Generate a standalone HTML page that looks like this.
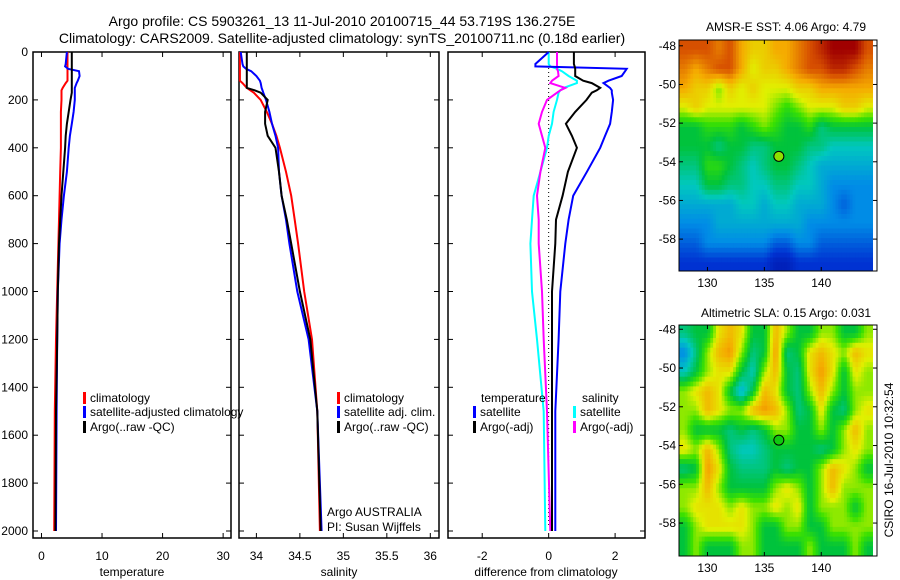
<!DOCTYPE html>
<html><head><meta charset="utf-8"><style>
body{margin:0;background:#fff;}
svg{display:block;font-family:"Liberation Sans",Arial,sans-serif;}
text{fill:#000;}
</style></head><body>
<svg id="s" width="900" height="580" viewBox="0 0 900 580">
<text x="342" y="26" font-size="14" text-anchor="middle">Argo profile: CS 5903261_13 11-Jul-2010 20100715_44 53.719S 136.275E</text>
<text x="342" y="43" font-size="14" text-anchor="middle">Climatology: CARS2009. Satellite-adjusted climatology: synTS_20100711.nc (0.18d earlier)</text>
<text x="786" y="31" font-size="12" text-anchor="middle">AMSR-E SST: 4.06 Argo: 4.79</text>
<text x="786" y="317" font-size="12" text-anchor="middle">Altimetric SLA: 0.15 Argo: 0.031</text>
<text transform="translate(893,460) rotate(-90)" font-size="12" text-anchor="middle">CSIRO 16-Jul-2010 10:32:54</text>
</svg>
<script>
// ---- data ----
const depths = [0,50,60,70,80,100,120,130,150,160,170,200,250,300,350,400,500,600,700,800,1000,1200,1500,2000];
const tClim = [4.3,4.3,4.3,4.3,4.3,4.3,4.3,4.0,3.5,3.3,3.3,3.3,3.2,3.2,3.2,3.2,3.1,3.0,2.9,2.8,2.6,2.4,2.2,2.1];
const tArgo = [5.0,5.0,5.0,5.0,5.0,5.0,5.0,5.0,5.0,5.0,5.0,4.8,4.5,4.2,4.0,3.9,3.6,3.3,3.1,2.9,2.7,2.6,2.4,2.3];
const tSat  = [4.2,4.0,3.9,4.4,6.2,6.3,6.0,5.8,5.5,5.5,5.5,5.5,5.3,5.0,4.7,4.5,4.2,3.7,3.3,3.0,2.7,2.6,2.5,2.4];
const sClim = [33.81,33.81,33.81,33.81,33.81,33.81,33.81,33.84,33.89,33.93,33.97,34.05,34.12,34.18,34.23,34.27,34.34,34.40,34.44,34.48,34.55,34.64,34.70,34.73];
const sArgo = [33.89,33.89,33.89,33.89,33.89,33.89,33.89,33.89,33.89,33.98,34.05,34.13,34.10,34.10,34.13,34.22,34.26,34.29,34.35,34.40,34.50,34.62,34.70,34.74];
const sSat  = [33.82,33.84,33.85,33.88,33.94,34.00,34.04,34.05,34.06,34.07,34.08,34.11,34.15,34.18,34.22,34.25,34.26,34.29,34.34,34.38,34.47,34.60,34.70,34.75];
const dTsat = [0,-0.4,-0.4,2.35,2.3,2.2,1.8,1.65,1.85,1.9,1.9,1.94,1.9,1.85,1.7,1.55,1.15,0.74,0.6,0.5,0.35,0.3,0.2,0.2];
const dTargo= [0.76,0.76,0.78,0.8,0.8,0.8,1.04,1.3,1.55,1.45,1.3,1.14,0.8,0.52,0.7,0.85,0.58,0.42,0.22,0.2,0.1,0.1,0.1,0.1];
const dSsat = [0,0,0.05,0.25,0.4,0.6,0.85,0.85,0.45,0.35,0.3,0.25,0.15,0.1,0.0,-0.05,-0.25,-0.45,-0.5,-0.55,-0.5,-0.35,-0.15,-0.1];
const dSargo= [0.25,0.25,0.25,0.25,0.28,0.3,0.1,0.05,0.5,0.35,0.25,-0.05,-0.2,-0.3,-0.2,-0.1,-0.25,-0.35,-0.3,-0.3,-0.2,-0.15,-0.05,0.05];
const depthTicks = [0,200,400,600,800,1000,1200,1400,1600,1800,2000];
const tTicks = [0,10,20,30];
const sTicks = ["34","34.5","35","35.5","36"];
const dTicks = [-2,0,2];
const lonTicks = [130,135,140];
const latTicks = [-48,-50,-52,-54,-56,-58];
const argoLon = 136.275, argoLat = -53.719;
const sstGrid = [
[8,8,8,7.5,8,7,6.5,6.5,7,7,7.5,8,8.5,9,9,9,8],
[7.5,7,7.5,8,8,7,6,6.5,6.5,7,7.5,8,8,8.5,8.5,8,7.5],
[7,6.5,6.5,5.5,6.5,6,6.5,6,6,6,6.5,6.5,7,7,7,7,7],
[6,6.5,6,6,6,6,6,6,5.5,5,5.5,6,6,6,6.5,6.5,6],
[4.5,4.5,5,5,5,4.5,5,5.5,5,4.5,4.5,5,4,4.5,4.5,4.5,4.5],
[4.5,4.5,4.5,4,4.5,4.5,4,4,4.5,4.5,4.5,4,4,3.5,3.5,3.5,3.5],
[4,4,5,5,4.5,4,3.5,4,4.5,4.5,4,3.5,3,3,3,3,3],
[3.5,3.5,4.5,4.5,4,4,3.5,3.5,4,4,3.5,3.5,3,2.5,2.5,2.5,2.5],
[3,3,3,3,3,3.5,3.5,3,3.5,3.5,3,3,3,2.5,2,2.5,2.5],
[2.5,2.5,2.5,3,3,3,3,3,3,3,3,2.5,2.5,2.5,2.5,2.5,2.5],
[2,2,2.5,2.5,2.5,2.5,2.5,2.5,2,2,2.5,2.5,2,2,2,2,2],
[1.5,1.5,1.5,1.5,1.5,1.5,1.5,1.5,1,1,1.5,1.5,1.5,1.5,1.5,1.5,1.5]];
const slaGrid = [
[4,4.5,4.5,6.2,6.8,6.2,4.5,4.5,6.8,5.6,4.5,4.5,5.6,5.6,4.5,4.5,5.6],
[2.5,4,5.6,6.8,7.2,5.6,4,4.5,7.2,4,4.5,6.2,6.8,6.2,5.6,6.8,6.2],
[3.5,4.5,5.6,6.2,6.2,4.5,3.5,5.6,6.8,4.5,4,6.2,7.2,6.2,4.5,6.2,5.6],
[5.6,6.2,6.8,6.2,4.5,3,4.5,6.8,6.2,4.5,4,5.6,6.8,5.6,4.5,5.6,5.6],
[5.6,5.6,6.8,6.2,5.6,5.6,6.8,7.2,6.8,5.6,4,4.5,6.2,4.5,4,5.6,6.2],
[5.6,4.5,4.5,4.5,4,4.5,4,4.5,5.6,5.6,4.5,4.5,5.6,4.5,5.6,6.8,5.6],
[6.2,5.6,6.8,5.6,4,3.5,3.5,4,4.5,4.5,4.5,4.5,4,4.5,5.6,6.2,5.6],
[4,4.5,7.2,6.2,4.5,4,4,4,4.5,4,4.5,4.5,5.6,6.8,6.2,5.6,4.5],
[5.6,5.6,6.8,5.6,4.5,4.5,4.5,4.5,5.6,6.2,5.6,4.5,5.6,6.8,5.6,5.6,5.6],
[5.6,6.2,6.2,6.2,5.6,6.2,5.6,5.6,6.2,5.6,6.2,4.5,5.6,5.6,5.6,4.5,5.6],
[4.5,5.6,6.2,6.2,6.2,6.2,5.6,4.5,4.5,5.6,5.6,4.5,4.5,5.6,5.6,5.6,5.6],
[4.5,5.6,4.5,4.5,4.5,5.6,5.6,4.5,4.5,4.5,4.5,5.6,4.5,4.5,4.5,5.6,4.5]];

// ---- helpers ----
const NS="http://www.w3.org/2000/svg";
const svg=document.getElementById('s');
function mk(tag,attrs,parent){const e=document.createElementNS(NS,tag);for(const k in attrs)e.setAttribute(k,attrs[k]);(parent||svg).appendChild(e);return e;}
const top0=52, bot0=538, yPerM=0.2395;
const yD = d => top0 + d*yPerM;
function panel(name,x0,x1,vmin,vmax){
  const sx=v=>x0+(v-vmin)/(vmax-vmin)*(x1-x0);
  const g=mk('g',{});
  
  
  const r=mk('rect',{x:x0,y:top0,width:x1-x0,height:bot0-top0,fill:'none',stroke:'#000','stroke-width':1.5},g);
  
  
  depthTicks.forEach(d=>{const y=yD(d);
    mk('line',{x1:x0,x2:x0+5,y1:y,y2:y,stroke:'#000'},g);
    mk('line',{x1:x1,x2:x1-5,y1:y,y2:y,stroke:'#000'},g);});
  return {sx,g};
}
function ticksX(p,vals){vals.forEach(v=>{const x=p.sx(+v);
  mk('line',{x1:x,x2:x,y1:bot0,y2:bot0-5,stroke:'#000'},p.g);
  mk('line',{x1:x,x2:x,y1:top0,y2:top0+5,stroke:'#000'},p.g);
  const t=mk('text',{x:x,y:560,'font-size':12,'text-anchor':'middle'},p.g);t.textContent=v;
  
  });}
function line(p,xs,col,name,w){
  const pts=xs.map((v,i)=>p.sx(v).toFixed(1)+','+yD(depths[i]).toFixed(1)).join(' ');
  const l=mk('polyline',{points:pts,fill:'none',stroke:col,'stroke-width':w||2},p.g);
  
  
}
function label(x,y,s,name,anchor,size){const t=mk('text',{x:x,y:y,'font-size':size||12,'text-anchor':anchor||'start'});t.textContent=s;
  
  return t;}
function legend(x,y,col,s,name){
  const b=mk('rect',{x:x,y:y-10,width:3,height:12,fill:col});
  
  
  label(x+7,y,s,name);
}

// panel 1 temperature
const p1=panel('temperature-panel',33,231,-1.4,31.3);
depthTicks.forEach(d=>{label(28,yD(d)+4,String(d),'depth-tick-label','end');});
ticksX(p1,tTicks);
line(p1,tClim,'#f00','temp-climatology-line');
line(p1,tSat,'#00f','temp-satellite-line');
line(p1,tArgo,'#000','temp-argo-line');
label(132,576,'temperature','temperature-axis-title','middle');
legend(83,402,'#f00','climatology','legend-climatology');
legend(83,416,'#00f','satellite-adjusted climatology','legend-satellite');
legend(83,431,'#000','Argo(..raw -QC)','legend-argo');

// panel 2 salinity
const p2=panel('salinity-panel',239,439,33.8,36.1);
ticksX(p2,sTicks);
line(p2,sClim,'#f00','sal-climatology-line');
line(p2,sSat,'#00f','sal-satellite-line');
line(p2,sArgo,'#000','sal-argo-line');
label(339,576,'salinity','salinity-axis-title','middle');
legend(337,402,'#f00','climatology','legend-climatology-2');
legend(337,416,'#00f','satellite adj. clim.','legend-satellite-2');
legend(337,431,'#000','Argo(..raw -QC)','legend-argo-2');
label(327,516,'Argo AUSTRALIA','credit-argo-australia');
label(327,531,'PI: Susan Wijffels','credit-pi');

// panel 3 difference
const p3=panel('difference-panel',448,645,-3.03,2.9);
ticksX(p3,dTicks);
mk('line',{x1:p3.sx(0),x2:p3.sx(0),y1:top0,y2:bot0-10,stroke:'#000','stroke-dasharray':'1,3'},p3.g);
line(p3,dSsat,'#0ff','diff-sal-satellite-line');
line(p3,dSargo,'#f0f','diff-sal-argo-line');
line(p3,dTsat,'#00f','diff-temp-satellite-line');
line(p3,dTargo,'#000','diff-temp-argo-line');
label(546,576,'difference from climatology','difference-axis-title','middle');
label(481,402,'temperature','legend-temperature-header');
label(582,402,'salinity','legend-salinity-header');
legend(473,416,'#00f','satellite','legend-temp-satellite');
legend(473,431,'#000','Argo(-adj)','legend-temp-argo');
legend(573,416,'#0ff','satellite','legend-sal-satellite');
legend(573,431,'#f0f','Argo(-adj)','legend-sal-argo');

// colormap (0..9)
const cmStops=[[0,[0,0,140]],[1.5,[0,50,210]],[2.5,[0,140,230]],[3.5,[0,200,190]],[4.5,[0,195,60]],[5.2,[60,225,0]],[6,[225,240,0]],[7,[245,170,0]],[8,[215,80,0]],[9,[160,0,0]]];
function cmap(v){
  if(v<=cmStops[0][0])return `rgb(${cmStops[0][1]})`;
  for(let k=1;k<cmStops.length;k++){if(v<=cmStops[k][0]){const [a,ca]=cmStops[k-1],[b,cb]=cmStops[k];const f=(v-a)/(b-a);
    return `rgb(${ca.map((c,i)=>Math.round(c+(cb[i]-c)*f)).join(',')})`;}}
  return `rgb(${cmStops[cmStops.length-1][1]})`;}
function sample(grid,fi,fj){
  const R=grid.length,C=grid[0].length;
  fi=Math.max(0,Math.min(C-1,fi));fj=Math.max(0,Math.min(R-1,fj));
  const i0=Math.floor(fi),j0=Math.floor(fj),i1=Math.min(C-1,i0+1),j1=Math.min(R-1,j0+1),a=fi-i0,b=fj-j0;
  return grid[j0][i0]*(1-a)*(1-b)+grid[j0][i1]*a*(1-b)+grid[j1][i0]*(1-a)*b+grid[j1][i1]*a*b;}
function map(name,grid,x0,x1,y0,y1,lonMin,lonMax,latTop,latBot){
  const sx=l=>x0+(l-lonMin)/(lonMax-lonMin)*(x1-x0);
  const sy=la=>y0+(la-latTop)/(latBot-latTop)*(y1-y0);
  const g=mk('g',{});
  
  
  const cp=mk('clipPath',{id:name+'-clip'},g);mk('rect',{x:x0,y:y0,width:x1-x0,height:y1-y0},cp);
  const cg=mk('g',{'clip-path':`url(#${name}-clip)`},g);
  const sub=4, R=grid.length, C=grid[0].length;
  for(let j=0;j<R*sub;j++)for(let i=0;i<C*sub;i++){
    const fi=(i+0.5)/sub-0.5, fj=(j+0.5)/sub-0.5;
    const v=sample(grid,fi,fj);
    const lon=127.5+i/sub, lat=-(47.7+j/sub);
    const xa=sx(lon),xb=sx(lon+1/sub),ya=sy(lat),yb=sy(lat-1/sub);
    const c=mk('rect',{x:xa.toFixed(1),y:ya.toFixed(1),width:(xb-xa+0.6).toFixed(1),height:(yb-ya+0.6).toFixed(1),fill:cmap(v)},cg);
    
    
  }
  mk('rect',{x:x0,y:y0,width:x1-x0,height:y1-y0,fill:'none',stroke:'#000'},g);
  lonTicks.forEach(l=>{const x=sx(l);
    mk('line',{x1:x,x2:x,y1:y1,y2:y1-4,stroke:'#000'},g);mk('line',{x1:x,x2:x,y1:y0,y2:y0+4,stroke:'#000'},g);
    label(x,y1+16,String(l),'lon-tick-label','middle');});
  latTicks.forEach(la=>{const y=sy(la);
    mk('line',{x1:x0,x2:x0+4,y1:y,y2:y,stroke:'#000'},g);mk('line',{x1:x1,x2:x1-4,y1:y,y2:y,stroke:'#000'},g);
    label(x0-3,y+4,String(la),'lat-tick-label','end');});
  const m=mk('circle',{cx:sx(argoLon),cy:sy(argoLat),r:5,fill:name==='sst-map'?'#8fe000':'#10c810',stroke:'#000','stroke-width':1},g);
  
  
}
map('sst-map',sstGrid,679,877,40,271,127.5,144.9,-47.7,-59.65);
map('sla-map',slaGrid,679,877,325,556,127.5,144.9,-47.78,-59.7);
</script>
</body></html>
